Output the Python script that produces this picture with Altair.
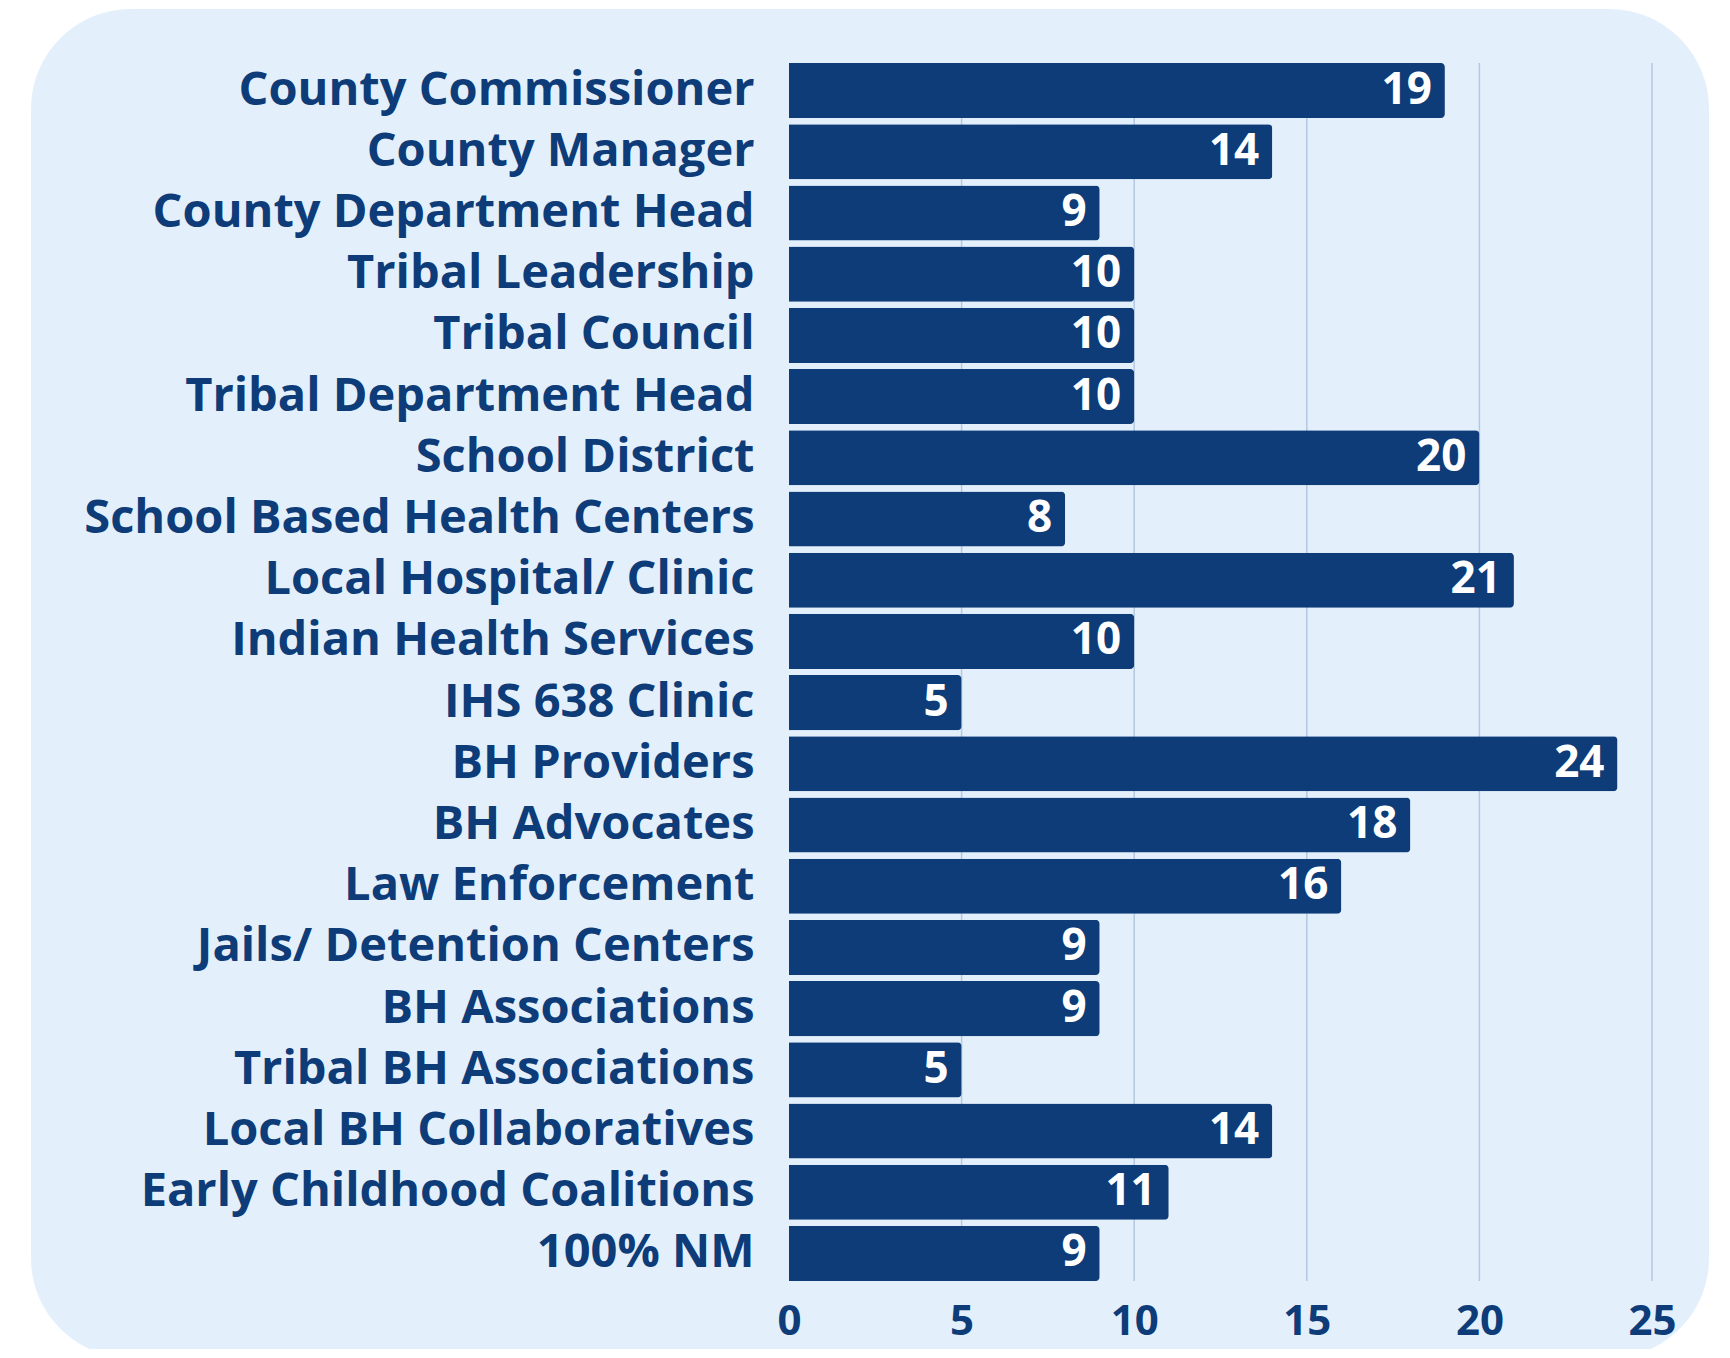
import altair as alt
import pandas as pd

categories = [
    "County Commissioner", "County Manager", "County Department Head",
    "Tribal Leadership", "Tribal Council", "Tribal Department Head",
    "School District", "School Based Health Centers", "Local Hospital/ Clinic",
    "Indian Health Services", "IHS 638 Clinic", "BH Providers", "BH Advocates",
    "Law Enforcement", "Jails/ Detention Centers", "BH Associations",
    "Tribal BH Associations", "Local BH Collaboratives",
    "Early Childhood Coalitions", "100% NM",
]
values = [19, 14, 9, 10, 10, 10, 20, 8, 21, 10, 5, 24, 18, 16, 9, 9, 5, 14, 11, 9]
grid_ticks = [5, 10, 15, 20, 25]
x_ticks = [0, 5, 10, 15, 20, 25]

NAVY = "#0d3c78"
PANEL = "#e3f0fc"
GRID = "#b4c8e1"
FONT = "Open Sans"

W, H = 863, 1218

df = pd.DataFrame({"category": categories, "value": values})
gdf = pd.DataFrame({"g": grid_ticks})
pdf = pd.DataFrame({"p": [0]})

xscale = alt.Scale(domain=[0, 25], nice=False)

panel = alt.Chart(pdf).mark_rect(color=PANEL, cornerRadius=100).encode(
    x=alt.value(-758), x2=alt.value(920), y=alt.value(-54), y2=alt.value(1295)
)

grid = alt.Chart(gdf).mark_rule(color=GRID, strokeWidth=1.5).encode(
    x=alt.X("g:Q", scale=xscale),
    y=alt.value(0),
    y2=alt.value(H),
)

ycat = alt.Y(
    "category:N",
    sort=categories,
    scale=alt.Scale(paddingInner=0.1, paddingOuter=0),
    axis=alt.Axis(
        title=None, ticks=False, domain=False, grid=False,
        labelFont=FONT, labelFontWeight="bold", labelFontSize=47,
        labelColor=NAVY, labelPadding=35, labelLimit=800, zindex=1,
    ),
)

bars = alt.Chart(df).mark_bar(color=NAVY, cornerRadiusEnd=4).encode(
    x=alt.X(
        "value:Q", scale=xscale,
        axis=alt.Axis(
            title=None, values=x_ticks, ticks=False, labelFlush=False,
            domain=False, grid=False, labelFont=FONT, labelFontWeight="bold",
            labelFontSize=42, labelColor=NAVY, labelPadding=20, zindex=1,
        ),
    ),
    y=ycat,
)

labels = alt.Chart(df).mark_text(
    color="white", font=FONT, fontWeight="bold", fontSize=44,
    align="right", baseline="middle", dx=-13,
).encode(
    x=alt.X("value:Q", scale=xscale),
    y=alt.Y("category:N", sort=categories),
    text="value:Q",
)

chart = alt.layer(panel, grid, bars, labels).properties(
    width=W, height=H,
    autosize=alt.AutoSizeParams(type="none"),
    padding={"left": 781, "top": 55, "right": 60, "bottom": 68},
    background="white",
).configure_view(stroke=None, fill=None)

chart.save("out.html", embed_options={"renderer": "svg", "actions": False})
